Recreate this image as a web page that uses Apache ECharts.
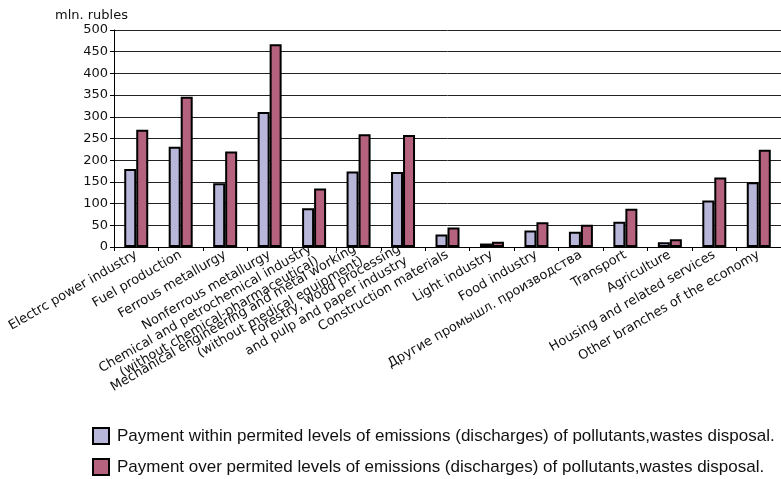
<!DOCTYPE html>
<html>
<head>
<meta charset="utf-8">
<title>Payments for emissions by branch</title>
<script src="https://cdn.jsdelivr.net/npm/echarts@6/dist/echarts.min.js"></script>
<style>
  html, body { margin: 0; padding: 0; background: #fff; }
  #chart { width: 781px; height: 479px; }
</style>
</head>
<body>
<div id="chart"></div>
<script>
// Branches of the economy (x axis)
const categories = [
  'Electrc power industry',
  'Fuel production',
  'Ferrous metallurgy',
  'Nonferrous metallurgy',
  'Chemical and petrochemical industry\n(without chemical-pharmaceutical)',
  'Mechanical engineering and metal working\n(without medical equipment)',
  'Forestry, wood processing\nand pulp and paper industry',
  'Construction materials',
  'Light industry',
  'Food industry',
  'Другие промышл. производства',
  'Transport',
  'Agriculture',
  'Housing and related services',
  'Other branches of the economy'
];

// Payments, mln. rubles
const withinLimits = [180, 231, 147, 311, 89, 174, 173, 29, 8, 38, 35, 58, 11, 107, 149];
const overLimits   = [270, 346, 220, 467, 135, 260, 258, 45, 12, 57, 51, 88, 18, 160, 224];

const seriesNames = [
  'Payment within permited levels of emissions (discharges) of pollutants,wastes disposal.',
  'Payment over permited levels of emissions (discharges) of pollutants,wastes disposal.'
];

const yTicks = { min: 0, max: 500, interval: 50 };

const chart = echarts.init(document.getElementById('chart'), null, { renderer: 'canvas' });

const labelFont = 'DejaVu Sans';
const legendText = { fontFamily: 'Liberation Sans', fontSize: 17, color: '#111', padding: [0, 0, 0, 3] };

chart.setOption({
  animation: false,
  backgroundColor: '#ffffff',
  grid: { left: 114, top: 30, width: 672, bottom: 232, containLabel: false },
  graphic: [{
    type: 'text',
    left: 55,
    top: 9,
    style: { text: 'mln. rubles', font: '13px "DejaVu Sans"', fill: '#111' }
  }],
  legend: [
    {
      left: 87, top: 422, itemWidth: 16, itemHeight: 16, icon: 'rect',
      textStyle: legendText, data: [seriesNames[0]]
    },
    {
      left: 87, top: 453, itemWidth: 16, itemHeight: 16, icon: 'rect',
      textStyle: legendText, data: [seriesNames[1]]
    }
  ],
  xAxis: {
    type: 'category',
    data: categories,
    axisLine: { lineStyle: { color: '#000', width: 1 } },
    axisTick: { show: true, length: 4, lineStyle: { color: '#000' } },
    axisLabel: {
      interval: 0,
      rotate: 30,
      margin: 7,
      fontFamily: labelFont,
      fontSize: 13,
      color: '#111',
      lineHeight: 14
    }
  },
  yAxis: {
    type: 'value',
    min: yTicks.min,
    max: yTicks.max,
    interval: yTicks.interval,
    axisLine: { show: true, lineStyle: { color: '#000', width: 1 } },
    axisTick: { show: true, length: 4, lineStyle: { color: '#000' } },
    axisLabel: { margin: 6, fontFamily: labelFont, fontSize: 13, color: '#111' },
    splitLine: { show: true, lineStyle: { color: '#222', width: 1 } }
  },
  series: [
    {
      name: seriesNames[0],
      type: 'bar',
      data: withinLimits,
      barWidth: 12,
      barGap: '0%',
      itemStyle: { color: '#b9b7d9', borderColor: '#000', borderWidth: 2 }
    },
    {
      name: seriesNames[1],
      type: 'bar',
      data: overLimits,
      barWidth: 12,
      barGap: '0%',
      itemStyle: { color: '#b5627e', borderColor: '#000', borderWidth: 2 }
    }
  ]
});
</script>
</body>
</html>
